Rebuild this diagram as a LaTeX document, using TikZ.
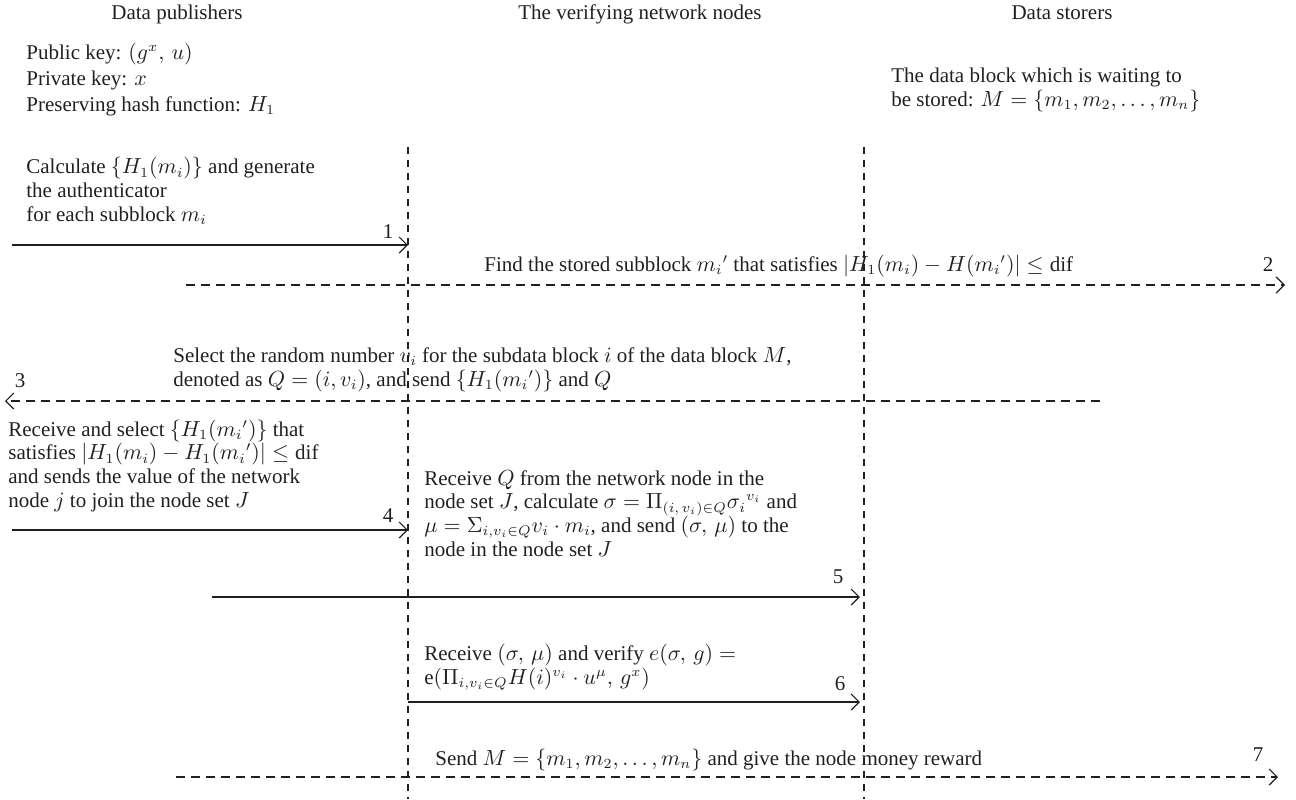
\documentclass[tikz,border=0pt]{standalone}
\usepackage{fontspec}
\setmainfont{Liberation Serif}
\usetikzlibrary{arrows.meta}
\definecolor{ink}{HTML}{231F20}
\begin{document}
\begin{tikzpicture}[x=0.5pt,y=-0.5pt,
  font=\fontsize{10.5}{11.8}\selectfont,
  every node/.style={inner sep=0pt, text=ink},
  txt/.style={anchor=base west, align=left},
  num/.style={anchor=base},
  lifeline/.style={draw=ink, line width=0.6pt, dash pattern=on 3.5pt off 3pt},
  msg/.style={draw=ink, line width=0.6pt, -{Straight Barb[length=4pt,width=8pt]}},
  dmsg/.style={msg, dash pattern=on 4.5pt off 3pt},
]
\useasboundingbox (0,0) rectangle (1296,799);

% headers
\node[anchor=base] (h1) at (177,19) {Data publishers};
\node[anchor=base] (h2) at (640,19) {The verifying network nodes};
\node[anchor=base] (h3) at (1062,19) {Data storers};

% lifelines
\coordinate (L1t) at (408,147); \coordinate (L1b) at (408,799);
\coordinate (L2t) at (864,147); \coordinate (L2b) at (864,799);
\draw[lifeline] (L1t) -- (L1b);
\draw[lifeline] (L2t) -- (L2b);

% info blocks (anchor = baseline of last line)
\node[txt, font=\fontsize{10.5}{12.8}\selectfont] (pk) at (26,111) {Public key: $(g^{x},\,u)$\\Private key: $x$\\Preserving hash function: $H_1$};
\node[txt] (ds) at (891,106) {The data block which is waiting to\\be stored: $M=\{m_1,m_2,\ldots,m_n\}$};

% step 1
\node[txt] (t1) at (26,221) {Calculate $\{H_1(m_i)\}$ and generate\\the authenticator\\for each subblock $m_i$};
\coordinate (a1s) at (12,245); \coordinate (a1e) at (408,245);
\draw[msg] (a1s) -- (a1e);
\node[num] (n1) at (388,238) {1};

% step 2
\node[txt] (t2) at (484,271) {Find the stored subblock $m_i{}'$ that satisfies $|H_1(m_i) - H(m_i{}')| \leq \mathrm{dif}$};
\coordinate (a2s) at (186,285); \coordinate (a2e) at (1285,285);
\draw[dmsg] (a2s) -- (a2e);
\node[num] (n2) at (1268,271) {2};

% step 3
\node[txt] (t3) at (173,386) {Select the random number $v_i$ for the subdata block $i$ of the data block $M$,\\denoted as $Q=(i,v_i)$, and send $\{H_1(m_i{}')\}$ and $Q$};
\coordinate (a3s) at (1100,401); \coordinate (a3e) at (5,401);
\draw[dmsg] (a3s) -- (a3e);
\node[num] (n3) at (20,387) {3};

% step 4
\node[txt] (t4) at (8,507) {Receive and select $\{H_1(m_i{}')\}$ that\\satisfies $|H_1(m_i) - H_1(m_i{}')| \leq \mathrm{dif}$\\and sends the value of the network\\node $j$ to join the node set $J$};
\coordinate (a4s) at (12,530); \coordinate (a4e) at (408,530);
\draw[msg] (a4s) -- (a4e);
\node[num] (n4) at (388,522) {4};

% step 5
\node[txt] (t5) at (424,556) {Receive $Q$ from the network node in the\\node set $J$, calculate $\sigma = \Pi_{(i,\,v_i)\in Q}\sigma_i{}^{v_i}$ and\\$\mu = \Sigma_{i,v_i\in Q}v_i\cdot m_i$, and send $(\sigma,\,\mu)$ to the\\node in the node set $J$};
\coordinate (a5s) at (212,597); \coordinate (a5e) at (860,597);
\draw[msg] (a5s) -- (a5e);
\node[num] (n5) at (838,583) {5};

% step 6
\node[txt] (t6) at (424,684) {Receive $(\sigma,\,\mu)$ and verify $e(\sigma,\,g)=$\\e$(\Pi_{i,v_i\in Q}H(i)^{v_i}\cdot u^{\mu},\,g^{x})$};
\coordinate (a6s) at (408,702); \coordinate (a6e) at (860,702);
\draw[msg] (a6s) -- (a6e);
\node[num] (n6) at (840,690) {6};

% step 7
\node[txt] (t7) at (435,765) {Send $M=\{m_1,m_2,\ldots,m_n\}$ and give the node money reward};
\coordinate (a7s) at (176,777); \coordinate (a7e) at (1278,777);
\draw[dmsg] (a7s) -- (a7e);
\node[num] (n7) at (1258,761) {7};
\end{tikzpicture}
\end{document}
